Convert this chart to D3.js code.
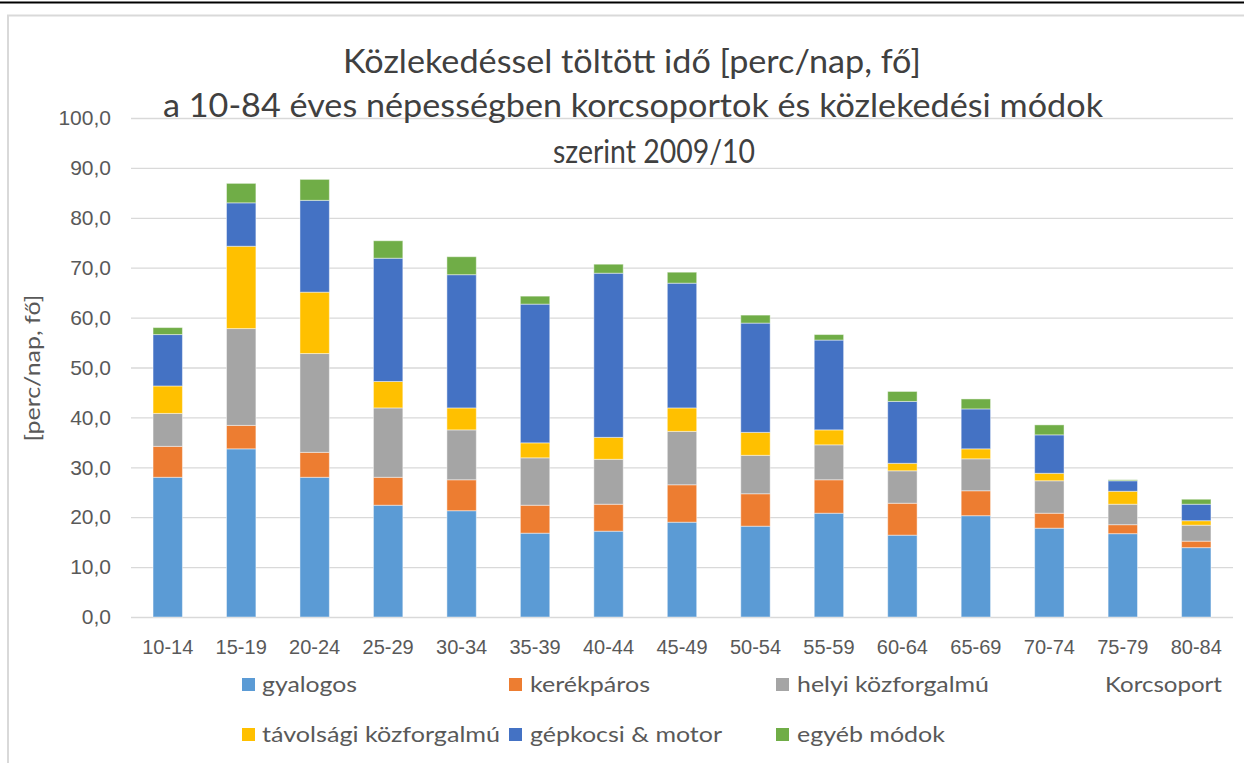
<!DOCTYPE html>
<html>
  <head>
    <meta charset="utf-8">
    <script src="https://d3js.org/d3.v7.min.js"></script>
    <title>Közlekedéssel töltött idő</title>
    <style>
      body { margin: 0; background: #fff; font-family: Lato, "Open Sans", sans-serif; }
      .grid line { stroke: #d9d9d9; stroke-width: 1.3; }
      .grid .domain { display: none; }
      .y-axis .domain, .y-axis line, .x-axis .domain, .x-axis line { display: none; }
      .y-axis text { fill: #595959; font-size: 21px; }
      .x-axis text { fill: #595959; font-size: 20px; }
      .title { fill: #404040; font-size: 32px; }
      .label { fill: #595959; font-size: 22px; }
    </style>
  </head>
  <body>
    <svg id="chart" width="1244" height="763"></svg>
    <script>
      const ageGroups = ['10-14', '15-19', '20-24', '25-29', '30-34', '35-39', '40-44', '45-49',
        '50-54', '55-59', '60-64', '65-69', '70-74', '75-79', '80-84'];
      const gyalogos   = [28.0, 33.7, 28.0, 22.4, 21.3, 16.8, 17.2, 19.0, 18.2, 20.8, 16.4, 20.3, 17.8, 16.7, 13.9];
      const kerekparos = [6.2, 4.7, 5.0, 5.6, 6.2, 5.6, 5.4, 7.5, 6.5, 6.7, 6.4, 5.0, 3.0, 1.8, 1.3];
      const helyi      = [6.6, 19.4, 19.8, 13.9, 10.0, 9.5, 9.0, 10.7, 7.7, 7.0, 6.5, 6.4, 6.5, 4.1, 3.2];
      const tavolsagi  = [5.5, 16.5, 12.3, 5.3, 4.4, 3.0, 4.4, 4.7, 4.6, 3.0, 1.5, 2.0, 1.5, 2.6, 0.9];
      const gepkocsi   = [10.3, 8.7, 18.4, 24.7, 26.7, 27.8, 32.9, 25.0, 21.9, 18.0, 12.4, 8.0, 7.7, 2.1, 3.3];
      const egyeb      = [1.4, 3.9, 4.2, 3.5, 3.6, 1.6, 1.8, 2.2, 1.6, 1.1, 2.0, 2.0, 2.0, 0.2, 1.0];
      const seriesNames = ['gyalogos', 'kerékpáros', 'helyi közforgalmú', 'távolsági közforgalmú', 'gépkocsi & motor', 'egyéb módok'];
      const seriesColors = ['#5b9bd5', '#ed7d31', '#a5a5a5', '#ffc000', '#4472c4', '#70ad47'];
      const yTicks = [0, 10, 20, 30, 40, 50, 60, 70, 80, 90, 100];
      const titleLines = ['Közlekedéssel  töltött idő [perc/nap, fő]',
        'a 10-84 éves népességben korcsoportok és közlekedési módok',
        'szerint 2009/10'];

      const allSeries = [gyalogos, kerekparos, helyi, tavolsagi, gepkocsi, egyeb];
      const rows = ageGroups.map((g, i) => {
        const r = { group: g };
        seriesNames.forEach((s, k) => { r[s] = allSeries[k][i]; });
        return r;
      });

      const svg = d3.select('#chart');
      const plot = { left: 131, right: 1233, top: 118, bottom: 617 };

      // page decoration: dark rule on top, light chart frame
      svg.append('line').attr('x1', 0).attr('x2', 1244).attr('y1', 2.5).attr('y2', 2.5)
        .attr('stroke', '#000').attr('stroke-width', 2);
      svg.append('rect').attr('x', 8).attr('y', 15.5).attr('width', 1260).attr('height', 760)
        .attr('fill', 'none').attr('stroke', '#d9d9d9').attr('stroke-width', 2);

      const x = d3.scaleBand().domain(ageGroups)
        .range([plot.left, plot.right]).paddingInner(0.6).paddingOuter(0.3);
      const y = d3.scaleLinear().domain([0, 100]).range([plot.bottom, plot.top]);

      svg.append('g').attr('class', 'grid')
        .attr('transform', `translate(${plot.left},0)`)
        .call(d3.axisLeft(y).tickValues(yTicks).tickSize(-(plot.right - plot.left)).tickFormat(''));

      svg.append('g').attr('class', 'y-axis')
        .attr('transform', `translate(${plot.left},0)`)
        .call(d3.axisLeft(y).tickValues(yTicks).tickSize(0).tickPadding(20)
          .tickFormat(d => d3.format('.1f')(d).replace('.', ',')));

      svg.append('g').attr('class', 'x-axis')
        .attr('transform', `translate(0,${plot.bottom})`)
        .call(d3.axisBottom(x).tickSize(0).tickPadding(23));

      const stacked = d3.stack().keys(seriesNames)(rows);
      svg.append('g').selectAll('g').data(stacked).join('g')
        .attr('fill', (d, i) => seriesColors[i])
        .selectAll('rect').data(d => d).join('rect')
          .attr('x', d => x(d.data.group))
          .attr('width', x.bandwidth())
          .attr('y', d => y(d[1]))
          .attr('height', d => y(d[0]) - y(d[1]))
          .attr('stroke', '#ffffff').attr('stroke-opacity', 0.45).attr('stroke-width', 1);

      // title
      const titleX = [343, 163, 553];
      const titleW = [578, 940, 202];
      const titleY = [73, 117, 163];
      svg.selectAll('.title').data(titleLines).join('text')
        .attr('class', 'title')
        .attr('x', (d, i) => titleX[i]).attr('y', (d, i) => titleY[i])
        .attr('textLength', (d, i) => titleW[i]).attr('lengthAdjust', 'spacingAndGlyphs')
        .text(d => d);

      // y axis title
      svg.append('text').attr('class', 'label')
        .attr('transform', 'translate(40,368) rotate(-90)')
        .attr('text-anchor', 'middle')
        .attr('textLength', 147).attr('lengthAdjust', 'spacingAndGlyphs')
        .text('[perc/nap, fő]');

      // x axis title
      svg.append('text').attr('class', 'label')
        .attr('x', 1105).attr('y', 692)
        .attr('textLength', 117).attr('lengthAdjust', 'spacingAndGlyphs')
        .text('Korcsoport');

      // legend
      const legX = [242, 509, 776, 242, 509, 776];
      const legY = [685, 685, 685, 735, 735, 735];
      const legW = [95, 120, 192, 238, 192, 148];
      const leg = svg.append('g').selectAll('g').data(seriesNames).join('g')
        .attr('transform', (d, i) => `translate(${legX[i]},${legY[i]})`);
      leg.append('rect').attr('x', 0).attr('y', -7).attr('width', 13).attr('height', 13)
        .attr('fill', (d, i) => seriesColors[i]);
      leg.append('text').attr('class', 'label')
        .attr('x', (d, i) => i % 3 === 0 ? 20 : 21).attr('y', 7)
        .attr('textLength', (d, i) => legW[i]).attr('lengthAdjust', 'spacingAndGlyphs')
        .text(d => d);
    </script>
  </body>
</html>
